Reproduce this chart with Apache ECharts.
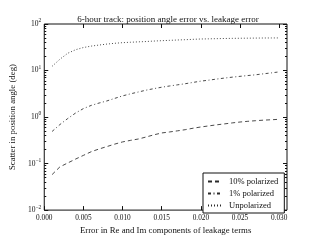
<!DOCTYPE html>
<html>
<head>
<meta charset="utf-8">
<script src="https://cdn.jsdelivr.net/npm/echarts@6/dist/echarts.min.js"></script>
<style>
html,body{margin:0;padding:0;background:#fff;}
#c{width:320px;height:240px;}
</style>
</head>
<body>
<div id="c"></div>
<script>
// ---- data ----
const xValues = [0.001,0.002,0.003,0.004,0.005,0.006,0.007,0.008,0.009,0.010,
                 0.011,0.012,0.013,0.014,0.015,0.016,0.017,0.018,0.019,0.020,
                 0.021,0.022,0.023,0.024,0.025,0.026,0.027,0.028,0.029,0.030];
const pol10 = [0.058,0.085,0.103,0.125,0.150,0.180,0.206,0.232,0.262,0.292,
               0.315,0.337,0.372,0.415,0.455,0.478,0.505,0.535,0.575,0.612,
               0.645,0.680,0.712,0.748,0.782,0.810,0.835,0.858,0.875,0.894];
const pol1 = [0.49,0.69,0.93,1.22,1.52,1.78,2.00,2.22,2.52,2.85,
              3.15,3.45,3.78,4.08,4.38,4.65,4.92,5.20,5.55,5.92,
              6.20,6.55,6.88,7.20,7.50,7.80,8.10,8.50,8.90,9.35];
const unpol = [12.3,17.5,23.5,28.0,31.2,33.5,35.3,37.0,38.5,39.7,
               40.5,41.3,42.0,43.0,43.8,44.5,45.3,46.0,46.8,47.6,
               48.0,48.4,48.8,49.1,49.4,49.6,49.8,50.0,50.1,50.2];
const seriesNames = ['10% polarized','1% polarized','Unpolarized'];
const xTicks = [0,0.005,0.010,0.015,0.020,0.025,0.030];
const yMajor = [0.01,0.1,1,10,100];
const yMinorMult = [2,3,4,5,6,7,8,9];
const yMinor = [];
yMajor.slice(0,-1).forEach(d => yMinorMult.forEach(m => yMinor.push(+(d*m).toPrecision(3))));

const FONT = '"Liberation Serif", "DejaVu Serif", serif';
const INK = '#111';
const LINE = '#2a2a2a';

const pairs = ys => xValues.map((x,i)=>[x, ys[i]]);

const yBase = (pos, ticks, len, labels) => ({
  type:'log', logBase:10, min:0.01, max:100, position:pos,
  axisLine:{show:false},
  splitLine:{show:false},
  axisTick:{show:true, inside:true, length:len, customValues:ticks, lineStyle:{color:INK,width:1}},
  axisLabel: labels ? {
    show:true, customValues:yMajor, margin:3, color:INK, fontFamily:FONT,
    formatter: v => { const e = Math.round(Math.log10(v)); return '{b|10}{e|' + (e<0?'\u2212':'') + Math.abs(e) + '}'; },
    rich:{ b:{fontSize:7.5, fontFamily:FONT, color:INK, lineHeight:12},
           e:{fontSize:5.5, fontFamily:FONT, color:INK, lineHeight:6, verticalAlign:'top'} }
  } : {show:false}
});

const chart = echarts.init(document.getElementById('c'), null, {renderer:'canvas'});
chart.setOption({
  animation:false,
  backgroundColor:'#fff',
  title:{
    text:'6-hour track: position angle error vs. leakage error',
    left:163, top:10, textAlign:'center',
    textStyle:{fontFamily:FONT, fontSize:9, fontWeight:'normal', color:INK}
  },
  grid:{left:40, right:33, top:24, bottom:24, show:true, borderColor:INK, borderWidth:1, backgroundColor:'transparent'},
  legend:{
    orient:'vertical', left:203, top:173,
    padding:[4,6,3,4], itemGap:3, itemWidth:14, itemHeight:8,
    borderColor:INK, borderWidth:1, backgroundColor:'#fff', borderRadius:0,
    itemStyle:{opacity:0},
    textStyle:{fontFamily:FONT, fontSize:8.5, color:INK, padding:[0,0,0,2]},
    data:seriesNames
  },
  xAxis:[
    { type:'value', min:0, max:0.031, position:'bottom',
      axisLine:{show:false}, splitLine:{show:false},
      axisTick:{show:true, inside:true, length:4, customValues:xTicks, lineStyle:{color:INK}},
      axisLabel:{show:true, customValues:xTicks, formatter:v=>v.toFixed(3), fontFamily:FONT, fontSize:7.3, color:INK, margin:4},
      name:'Error in Re and Im components of leakage terms', nameLocation:'middle', nameGap:14,
      nameTextStyle:{fontFamily:FONT, fontSize:8.8, color:INK}
    },
    { type:'value', min:0, max:0.031, position:'top',
      axisLine:{show:false}, splitLine:{show:false},
      axisTick:{show:true, inside:true, length:4, customValues:xTicks, lineStyle:{color:INK}},
      axisLabel:{show:false}
    }
  ],
  yAxis:[
    Object.assign(yBase('left', yMajor, 4, true), {
      name:'Scatter in position angle (deg)', nameLocation:'middle', nameGap:23, nameRotate:90,
      nameTextStyle:{fontFamily:FONT, fontSize:8.8, color:INK}
    }),
    yBase('left', yMinor, 2, false),
    yBase('right', yMajor, 4, false),
    yBase('right', yMinor, 2, false)
  ],
  series:[
    { name:seriesNames[0], type:'line', data:pairs(pol10), symbol:'none', xAxisIndex:0, yAxisIndex:0,
      itemStyle:{color:'rgba(0,0,0,0)'},
      lineStyle:{color:LINE, width:0.85, type:[4,3]} },
    { name:seriesNames[1], type:'line', data:pairs(pol1), symbol:'none', xAxisIndex:0, yAxisIndex:0,
      itemStyle:{color:'rgba(0,0,0,0)'},
      lineStyle:{color:LINE, width:0.85, type:[3,2.5,1,2.5]} },
    { name:seriesNames[2], type:'line', data:pairs(unpol), symbol:'none', xAxisIndex:0, yAxisIndex:0,
      itemStyle:{color:'rgba(0,0,0,0)'},
      lineStyle:{color:LINE, width:0.85, type:[1,2]} }
  ]
});
</script>
</body>
</html>
